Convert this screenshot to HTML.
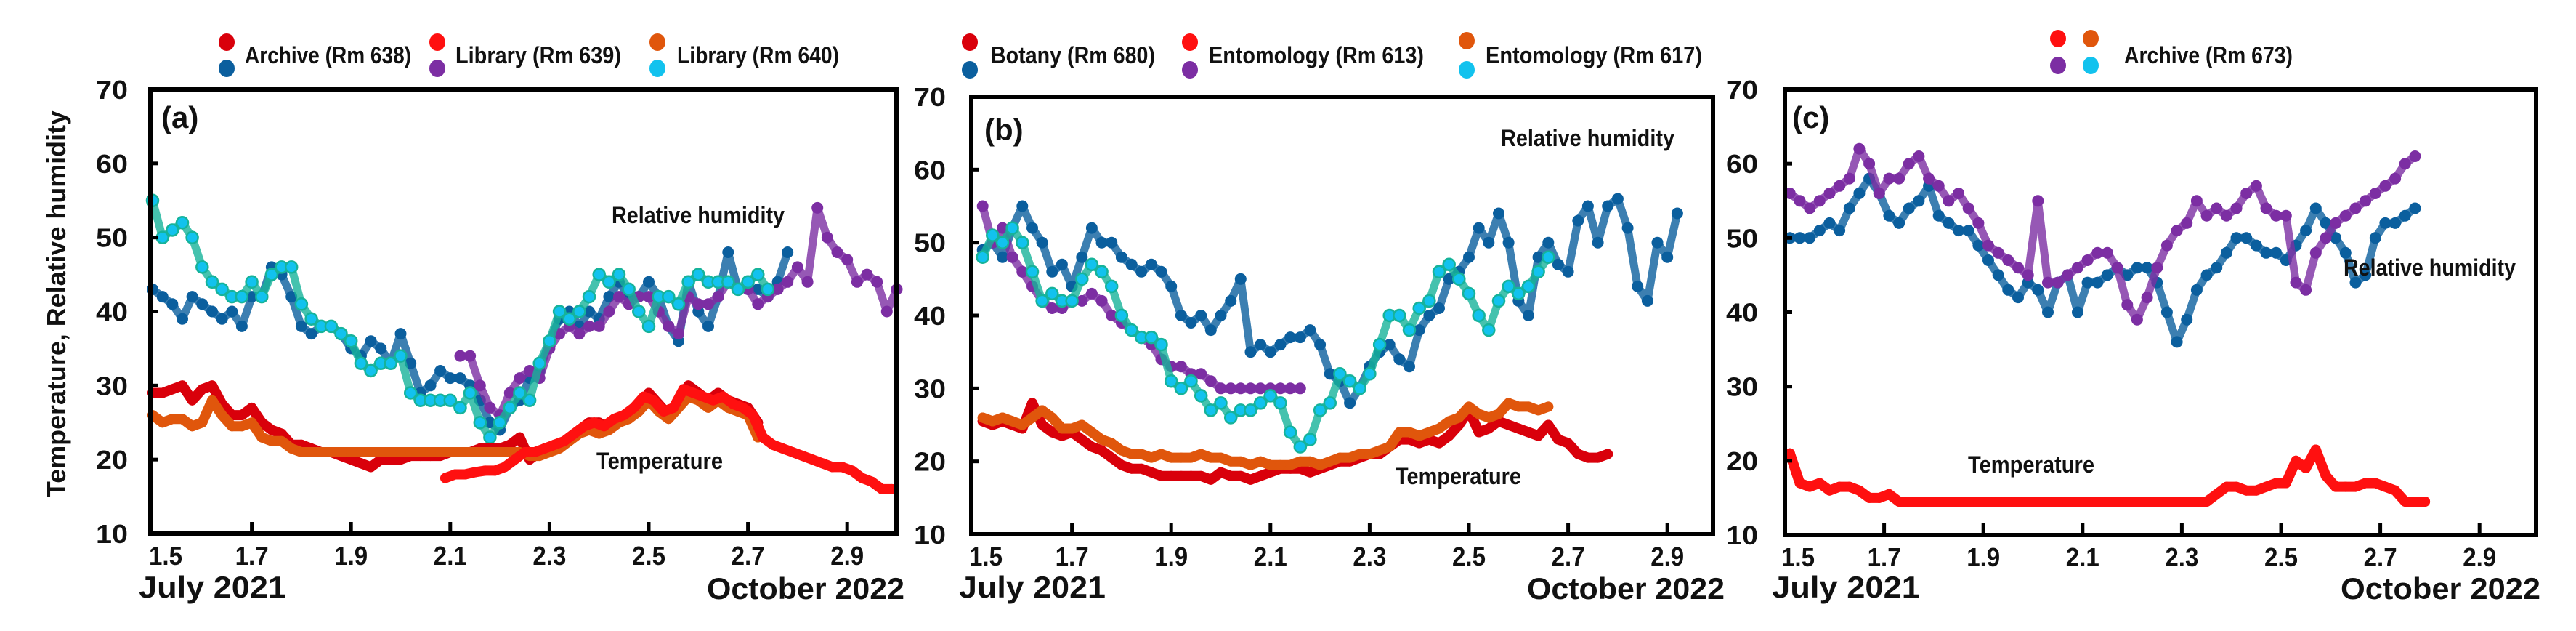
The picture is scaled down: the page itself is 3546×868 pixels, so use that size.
<!DOCTYPE html>
<html><head><meta charset="utf-8"><style>
html,body{margin:0;padding:0;background:#fff;}
svg{display:block;font-family:"Liberation Sans",Arial,sans-serif;font-weight:bold;}
</style></head><body>
<svg id="chart" width="3546" height="868" viewBox="0 0 3546 868" xmlns="http://www.w3.org/2000/svg"></svg>
<script>
// ---- data (x = start + i*step) ----
const xTicks = [1.5,1.7,1.9,2.1,2.3,2.5,2.7,2.9];
const xTickLabels = ["1.5","1.7","1.9","2.1","2.3","2.5","2.7","2.9"];
const yTicks = [10,20,30,40,50,60,70];
const yTickLabels = ["10","20","30","40","50","60","70"];
const STEP = 0.02;
// panel a
const aT638Start = 1.50;
const aT638 = [29,29,29.5,30,28,29.5,30,27.5,26,26,27,25,24,23.5,22,22,21.5,21,21,20.5,20,19.5,19,20,20,20,20.5,20.5,20.5,20.5,21,21,21,21.5,21.5,21.5,22,23,20,21,21.5,22,23,24,25,25,24,25,26,27,29,27.5,26,28,30,29,28,29,28,27.5,27,25];
const aT640Start = 1.50;
const aT640 = [26,25,25.5,25.5,24.5,25,28,26,24.5,24.5,25,23,22.5,22.5,21.5,21,21,21,21,21,21,21,21,21,21,21,21,21,21,21,21,21,21,21,21,21,21,21,20.5,20.5,21,21.5,22.5,23.5,24,23.5,24,25,25.5,26.5,28,26.5,25.5,27,28.5,28,27,28,27,26.5,26,23];
const aT639Start = 2.09;
const aT639 = [17.5,18,18,18.3,18.5,18.5,19,20,21,21,21.5,22,22.5,23.5,24.5,25,24.5,25.5,26,27,28.5,28,26.5,27,29.5,29,28.5,28,28.5,27.5,27,26,23,22,21.5,21,20.5,20,19.5,19,19,18.5,17.5,17,16,16];
const aRH638Start = 1.50;
const aRH638 = [43,42,41,39,42,41,40,39,40,38,42,42,46,45,42,38,37,38,38,37,35,34,36,35,33,37,33,29,30,32,31,31,30,28,25,24,27,28,31,32,36,39,40,38,40,39,42,44,42,42,44,42,38,36,44,40,38,42,48,43,43,43,42,44,48];
const aRH640Start = 1.50;
const aRH640 = [55,50,51,52,50,46,44,43,42,42,44,42,45,46,46,41,39,38,38,37,36,33,32,33,33,34,29,28,28,28,28,27,29,25,23,25,27,29,28,33,36,40,39,40,42,45,44,45,43,40,38,42,42,41,44,45,44,44,44,43,44,45,43];
const aRH639Start = 2.12;
const aRH639 = [34,34,30,27,26,29,31,32,31,35,37,38,37,38,38,40,42,41,42,42,40,38,37,42,41,41,42,44,43,43,41,42,43,44,46,44,54,50,48,47,44,45,44,40,43];
// panel b
const bT680Start = 1.52;
const bT680 = [25.5,25,25.5,25,24.5,28,25,24,23.5,24,23,22,21.5,20.5,19.5,19,19,18.5,18,18,18,18,18,17.5,18.5,18,18,17.5,18,18.5,19,19,19,18.5,19,19.5,20,20,20.5,21,21,22,23,23,22.5,23,22.5,23.5,25,27,24,24.5,25.5,25,24.5,24,23.5,25,23,22.5,21,20.5,20.5,21];
const bT617Start = 1.52;
const bT617 = [26,25.5,26,25.5,25,26,27,26,24.5,24.5,25,24,23,22.5,21.5,21,21,20.5,21,20.5,20.5,20.5,21,20.5,20.5,20,20,19.5,20,19.5,19.5,19.5,20,20,19.5,20,20.5,20.5,21,21,21.5,22,24,24,23.5,24,24.5,25.5,26,27.5,26.5,26,26.5,28,27.5,27.5,27,27.5];
const bRH680Start = 1.52;
const bRH680 = [49,50,48,52,55,52,50,46,47,44,48,52,50,50,48,47,46,47,46,44,40,39,40,38,40,42,45,35,36,35,36,37,37,38,36,32,31,28,30,33,35,36,34,33,38,40,41,45,46,48,52,50,54,50,42,40,48,50,47,46,53,55,50,55,56,52,44,42,50,48,54];
const bRH617Start = 1.52;
const bRH617 = [48,51,50,52,50,46,42,43,42,42,45,47,46,44,40,38,37,37,36,31,30,31,29,27,28,26,27,27,28,29,28,24,22,23,27,28,32,31,30,32,36,40,40,38,41,42,46,47,45,43,40,38,42,44,43,44,46,48];
const bRH613Start = 1.52;
const bRH613 = [55,50,52,48,46,44,42,41,41,42,42,43,42,40,39,38,37,36,34,33,33,32,32,31,30,30,30,30,30,30,30,30,30];
// panel c
const cT673Start = 1.51;
const cT673 = [21,17,16.5,17,16,16.5,16.5,16,15,15,15.5,14.5,14.5,14.5,14.5,14.5,14.5,14.5,14.5,14.5,14.5,14.5,14.5,14.5,14.5,14.5,14.5,14.5,14.5,14.5,14.5,14.5,14.5,14.5,14.5,14.5,14.5,14.5,14.5,14.5,14.5,14.5,14.5,15.5,16.5,16.5,16,16,16.5,17,17,20,19,21.5,18,16.5,16.5,16.5,17,17,16.5,16,14.5,14.5,14.5];
const cRHBlueStart = 1.51;
const cRHBlue = [50,50,50,51,52,51,54,56,58,56,53,52,54,55,57,53,52,51,51,49,47,45,43,42,44,43,40,44,45,40,44,44,45,46,45,46,46,44,40,36,39,43,45,46,48,50,50,49,48,48,47,49,51,54,52,50,48,44,45,50,52,52,53,54];
const cRHPurpleStart = 1.51;
const cRHPurple = [56,55,54,55,56,57,58,62,60,56,58,58,60,61,58,57,55,56,54,52,49,48,47,46,45,55,44,44,45,46,47,48,48,46,41,39,42,46,49,51,52,55,53,54,53,54,56,57,54,53,53,44,43,48,50,52,53,54,55,56,57,58,60,61];

const C = {dred:'#d9000b', red:'#ff1010', orange:'#e0560c', blue:'#0b5f9e', purple:'#7c2ea3', cyan:'#12c2ee', teal:'#16b39a'};
const NS = 'http://www.w3.org/2000/svg';
const svg = document.getElementById('chart');
function mk(tag, attrs, parent){const e=document.createElementNS(NS,tag);for(const k in attrs)e.setAttribute(k,attrs[k]);(parent||svg).appendChild(e);return e;}
function txt(s, attrs, parent){const e=mk('text',attrs,parent);e.textContent=s;return e;}

const panels = [
 {id:'a', bx0:207, bx1:1234, px15:210, top:123, bot:734, letter:'(a)', lx:222, ly:176,
  rh:{x:842,y:307,w:238}, tp:{x:821,y:645,w:174}, july:{x:191,w:203}, oct:{x:973,w:272}, ylab:{x:176},
  legend:[{dots:[[312,58,C.dred],[312,94,C.blue]],tx:337,tw:229,label:'Archive (Rm 638)'},
          {dots:[[602,58,C.red],[602,94,C.purple]],tx:627,tw:228,label:'Library (Rm 639)'},
          {dots:[[905,58,C.orange],[905,94,C.cyan]],tx:932,tw:223,label:'Library (Rm 640)'}],
  series:[
   {n:'archive-638-rh',s:aRH638Start,v:aRH638,c:C.blue,rh:true},
   {n:'library-639-rh',s:aRH639Start,v:aRH639,c:C.purple,rh:true},
   {n:'library-640-rh',s:aRH640Start,v:aRH640,c:C.cyan,rh:true,cy:true},
   {n:'archive-638-temp',s:aT638Start,v:aT638,c:C.dred},
   {n:'library-640-temp',s:aT640Start,v:aT640,c:C.orange},
   {n:'library-639-temp',s:aT639Start,v:aT639,c:C.red}]},
 {id:'b', bx0:1337, bx1:2358, px15:1339, top:133, bot:735, letter:'(b)', lx:1355, ly:193,
  rh:{x:2066,y:201,w:239}, tp:{x:1921,y:666,w:173}, july:{x:1320,w:202}, oct:{x:2102,w:272}, ylab:{x:1302},
  legend:[{dots:[[1335,58,C.dred],[1335,96,C.blue]],tx:1364,tw:226,label:'Botany (Rm 680)'},
          {dots:[[1638,58,C.red],[1638,96,C.purple]],tx:1664,tw:296,label:'Entomology (Rm 613)'},
          {dots:[[2019,56,C.orange],[2019,96,C.cyan]],tx:2045,tw:298,label:'Entomology (Rm 617)'}],
  series:[
   {n:'botany-680-rh',s:bRH680Start,v:bRH680,c:C.blue,rh:true},
   {n:'entomology-613-rh',s:bRH613Start,v:bRH613,c:C.purple,rh:true},
   {n:'entomology-617-rh',s:bRH617Start,v:bRH617,c:C.cyan,rh:true,cy:true},
   {n:'botany-680-temp',s:bT680Start,v:bT680,c:C.dred},
   {n:'entomology-617-temp',s:bT617Start,v:bT617,c:C.orange}]},
 {id:'c', bx0:2457, bx1:3491, px15:2457, top:123, bot:736, letter:'(c)', lx:2467, ly:176,
  rh:{x:3226,y:379,w:237}, tp:{x:2709,y:650,w:174}, july:{x:2439,w:204}, oct:{x:3222,w:275}, ylab:{x:2420},
  legend:[{dots:[[2833,53,C.red],[2878,53,C.orange],[2833,90,C.purple],[2878,90,C.cyan]],tx:2924,tw:232,label:'Archive (Rm 673)'}],
  series:[
   {n:'archive-673-rh-blue',s:cRHBlueStart,v:cRHBlue,c:C.blue,rh:true},
   {n:'archive-673-rh-purple',s:cRHPurpleStart,v:cRHPurple,c:C.purple,rh:true},
   {n:'archive-673-temp',s:cT673Start,v:cT673,c:C.red}]}
];

panels.forEach(p=>{
  const g = mk('g',{});
  
  
  const perUnit = 683;
  const xs = v => p.px15 + (v-1.5)*perUnit;
  const ys = v => p.bot - (v-10)/60*(p.bot-p.top);
  p.legend.forEach((L,i)=>{
    const lg = mk('g',{},g);
    
    
    L.dots.forEach(d=>mk('ellipse',{cx:d[0],cy:d[1],rx:11,ry:12,fill:d[2]},lg));
    txt(L.label,{x:L.tx,y:87,'font-size':32,textLength:L.tw,lengthAdjust:'spacingAndGlyphs',fill:'#111'},lg);
  });
  p.series.forEach(S=>{
    const sg = mk('g',{},g);
    
    
    const pts = S.v.map((v,i)=>[xs(S.s+i*STEP), ys(v)]);
    mk('polyline',{points:pts.map(q=>q[0].toFixed(1)+','+q[1].toFixed(1)).join(' '),fill:'none',
      stroke:S.cy?C.teal:S.c,'stroke-width':S.rh?11:14,'stroke-linejoin':'round','stroke-linecap':'round',opacity:S.rh?0.8:1},sg);
    pts.forEach(q=>{
      const c = mk('circle',{cx:q[0].toFixed(1),cy:q[1].toFixed(1),r:S.rh?8:7,fill:S.c},sg);
      if(S.cy){c.setAttribute('stroke',C.teal);c.setAttribute('stroke-width',2.5);}
      
      
    });
  });
  const fr = mk('rect',{x:p.bx0,y:p.top,width:p.bx1-p.bx0,height:p.bot-p.top,fill:'none',stroke:'#000','stroke-width':6},g);
  
  
  xTicks.forEach((t,i)=>{
    const x = xs(t);
    if(i>0) mk('line',{x1:x,x2:x,y1:p.bot,y2:p.bot-16,stroke:'#000','stroke-width':5},g);
    const lx = i===0 ? x+18 : x;
    const tl = txt(xTickLabels[i],{x:lx,y:p.bot+43,'font-size':36,'text-anchor':'middle',textLength:46,lengthAdjust:'spacingAndGlyphs',fill:'#111'},g);
    
    
  });
  yTicks.forEach((t,i)=>{
    const y = ys(t);
    if(t>10 && t<70) mk('line',{x1:p.bx0,x2:p.bx0+10,y1:y,y2:y,stroke:'#000','stroke-width':5},g);
    const tl = txt(yTickLabels[i],{x:p.ylab.x,y:y+13,'font-size':36,'text-anchor':'end',textLength:44,lengthAdjust:'spacingAndGlyphs',fill:'#111'},g);
    
    
  });
  const j = txt('July  2021',{x:p.july.x,y:822,'font-size':42,textLength:p.july.w,lengthAdjust:'spacingAndGlyphs',fill:'#111','xml:space':'preserve'},g);
  
  
  const o = txt('October 2022',{x:p.oct.x,y:824,'font-size':42,textLength:p.oct.w,lengthAdjust:'spacingAndGlyphs',fill:'#111'},g);
  
  
  const pl = txt(p.letter,{x:p.lx,y:p.ly,'font-size':42,fill:'#111'},g);
  
  
  const r = txt('Relative humidity',{x:p.rh.x,y:p.rh.y,'font-size':32,textLength:p.rh.w,lengthAdjust:'spacingAndGlyphs',fill:'#111'},g);
  
  
  const tp = txt('Temperature',{x:p.tp.x,y:p.tp.y,'font-size':32,textLength:p.tp.w,lengthAdjust:'spacingAndGlyphs',fill:'#111'},g);
  
  
});
const yt = txt('Temperature, Relative humidity',{x:0,y:0,'font-size':36,'text-anchor':'middle',textLength:532,lengthAdjust:'spacingAndGlyphs',fill:'#111',transform:'translate(90,418) rotate(-90)'});


</script>
</body></html>
